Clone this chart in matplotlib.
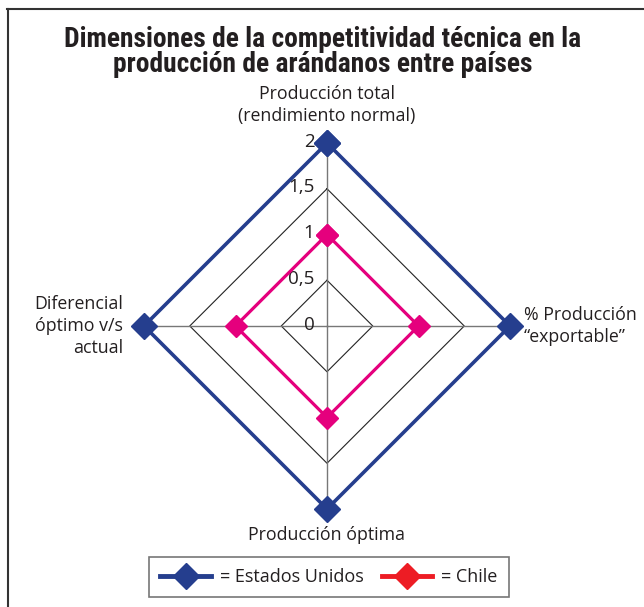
import numpy as np
import matplotlib
matplotlib.use("Agg")
import matplotlib.pyplot as plt
from matplotlib.lines import Line2D
from matplotlib import font_manager

# data
dimensiones = ["Producción total\n(rendimiento normal)",
               "% Producción\n“exportable”",
               "Producción óptima",
               "Diferencial\nóptimo v/s\nactual"]
estados_unidos = [2, 2, 2, 2]
chile = [1, 1, 1, 1]
niveles = [0, 0.5, 1, 1.5, 2]
etiquetas_niveles = ["0", "0,5", "1", "1,5", "2"]

titulo = "Dimensiones de la competitividad técnica en la\nproducción de arándanos entre países"

azul = "#253e8e"
magenta = "#e5007d"
rojo = "#ed1c24"

names = {f.name for f in font_manager.fontManager.ttflist}
title_font = next((f for f in ["Roboto Condensed", "Open Sans Condensed",
                               "Liberation Sans Narrow", "DejaVu Sans Condensed",
                               "Roboto"] if f in names), "DejaVu Sans")
text_font = "Open Sans" if "Open Sans" in names else "DejaVu Sans"

fig = plt.figure(figsize=(6.44, 6.07), dpi=100)

# polar axes, center at (327, 326) px, radius 183 px
ax = fig.add_axes([144 / 644, 98 / 607, 366 / 644, 366 / 607], projection="polar")
ax.set_theta_zero_location("N")
ax.set_theta_direction(-1)
ax.set_ylim(0, 2)
ax.grid(False)
ax.spines["polar"].set_visible(False)
ax.set_xticks([])
ax.set_yticks([])
ax.patch.set_alpha(0)

n = len(dimensiones)
angulos = np.linspace(0, 2 * np.pi, n, endpoint=False)
cerrado = np.append(angulos, angulos[0])

# diamond grid
for nivel in niveles[1:]:
    ax.plot(cerrado, [nivel] * (n + 1), color="#222222", lw=0.8, zorder=1, clip_on=False)
for a in angulos:
    ax.plot([a, a], [0, niveles[-1]], color="#777777", lw=1.0, zorder=1, clip_on=False)

# tick labels along the top spoke
for nivel, txt in zip(niveles, etiquetas_niveles):
    ax.annotate(txt, xy=(0, nivel), xytext=(-9, 1), textcoords="offset points",
                ha="right", va="center", fontsize=13.5, color="#231f20",
                family=text_font, annotation_clip=False)

# series
ax.plot(cerrado, estados_unidos + estados_unidos[:1], color=azul, lw=2.6,
        marker="D", markersize=13, zorder=3, clip_on=False)
ax.plot(cerrado, chile + chile[:1], color=magenta, lw=2.3,
        marker="D", markersize=11.5, zorder=4, clip_on=False)

# axis labels
posiciones = [((0, 13), "center", "bottom"),
              ((10, 0), "left", "center"),
              ((0, -12), "center", "top"),
              ((-15, 0), "right", "center")]
for a, lab, (off, ha, va) in zip(angulos, dimensiones, posiciones):
    ax.annotate(lab, xy=(a, 2), xytext=off, textcoords="offset points",
                ha=ha, va=va, multialignment=ha if ha != "center" else "center",
                fontsize=12.8, color="#231f20", family=text_font,
                linespacing=1.3, annotation_clip=False)

# title, fitted to the reference width (~515 px)
t = fig.text(323 / 644, 1 - 52 / 607, titulo, ha="center", va="center",
             fontsize=20, fontweight="bold", family=[title_font, "DejaVu Sans"],
             color="#231f20", linespacing=0.95)
ancho = t.get_window_extent(renderer=fig.canvas.get_renderer()).width
t.set_fontsize(20 * 515 / ancho)

# legend
handles = [Line2D([], [], color=azul, lw=3.5, marker="D", markersize=13),
           Line2D([], [], color=rojo, lw=3.5, marker="D", markersize=13)]
leg = fig.legend(handles, ["= Estados Unidos", "= Chile"], ncol=2,
                 loc="center", bbox_to_anchor=(329 / 644, 1 - 577 / 607),
                 prop={"family": text_font, "size": 13}, handlelength=2.8,
                 handletextpad=0.5, columnspacing=1.0, fancybox=False,
                 borderpad=0.6, labelcolor="#231f20")
leg.get_frame().set_edgecolor("#555555")
leg.get_frame().set_linewidth(1.2)

# outer frame (top and left only)
fig.add_artist(Line2D([7 / 644, 1], [1 - 9 / 607, 1 - 9 / 607], color="#333333", lw=1.5))
fig.add_artist(Line2D([8 / 644, 8 / 644], [0, 1 - 9 / 607], color="#333333", lw=1.5))

fig.savefig("out.png", dpi=100)
